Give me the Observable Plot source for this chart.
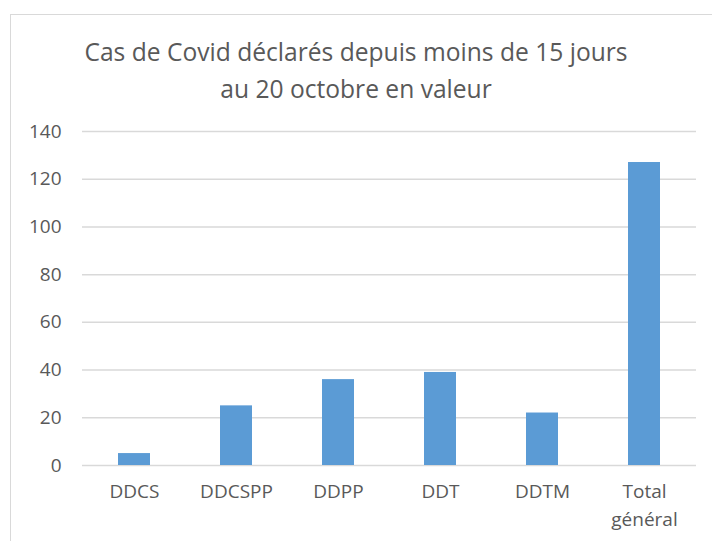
<!DOCTYPE html>
<html>
<head>
<meta charset="utf-8">
<script src="https://cdn.jsdelivr.net/npm/d3@7"></script>
<script src="https://cdn.jsdelivr.net/npm/@observablehq/plot@0.6"></script>
<style>
  html, body { margin: 0; padding: 0; background: #fff; }
  #wrap { position: relative; width: 712px; height: 541px; overflow: hidden; font-family: "Open Sans", sans-serif; }
  #frame { position: absolute; left: 10px; top: 14px; width: 720px; height: 560px; border: 1.5px solid #d9d9d9; box-sizing: border-box; }
  #title { position: absolute; left: 0; width: 712px; top: 33px; text-align: center; color: #595959; font-size: 24.6px; line-height: 37px; }
  #chart { position: absolute; left: 0; top: 0; }
</style>
</head>
<body>
<div id="wrap">
  <div id="frame"></div>
  <div id="chart"></div>
  <div id="title">Cas de Covid déclarés depuis moins de 15 jours<br>au 20 octobre en valeur</div>
</div>
<script>
const categories = ["DDCS", "DDCSPP", "DDPP", "DDT", "DDTM", "Total général"];
const values = [5, 25, 36, 39, 22, 127];
const yTicks = [0, 20, 40, 60, 80, 100, 120, 140];

const data = categories.map((c, i) => ({category: c, value: values[i]}));

const chart = Plot.plot({
  width: 712,
  height: 541,
  marginLeft: 82,
  marginRight: 16,
  marginTop: 131,
  marginBottom: 76,
  style: {background: "transparent", fontFamily: "'Open Sans', sans-serif", fontSize: "19px", color: "#595959"},
  x: {domain: categories, paddingInner: 0.687, paddingOuter: 0.3435, label: null},
  y: {domain: [0, 140], ticks: yTicks, label: null},
  marks: [
    Plot.gridY(yTicks, {stroke: "#d9d9d9", strokeOpacity: 1, strokeWidth: 1.5}),
    Plot.barY(data, {x: "category", y: "value", fill: "#5b9bd5"}),
    Plot.axisY(yTicks, {tickSize: 0, tickPadding: 21, fill: "#595959", fontSize: 19}),
    Plot.axisX({tickSize: 0, tickPadding: 12, fill: "#595959", fontSize: 19, lineHeight: 1.5,
      tickFormat: d => d.replace(" ", "\n")})
  ]
});
document.getElementById("chart").appendChild(chart);
</script>
</body>
</html>
